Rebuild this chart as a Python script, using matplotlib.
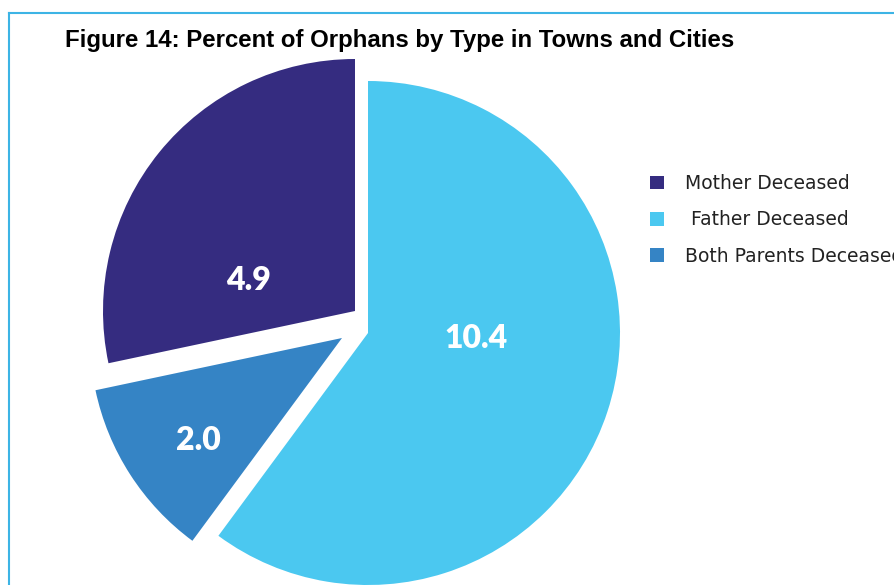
import matplotlib
matplotlib.use("Agg")
import matplotlib.pyplot as plt
from matplotlib.lines import Line2D

# data
CATEGORIES = ["Mother Deceased", " Father Deceased", "Both Parents Deceased"]
VALUES = [4.9, 10.4, 2.0]
COLORS = ["#352C80", "#4BC8F0", "#3584C5"]
TITLE = "Figure 14: Percent of Orphans by Type in Towns and Cities"

W, H = 894, 585
R_PX = 252.0          # pie radius in pixels
C0 = (362, 330)       # reference pie centre (pixels, y down)

# per-slice apex and label position in pixels (layout only)
APEX_PX = [(355, 311), (368, 333), (342, 338)]
LABEL_PX = [(249, 281), (476, 339), (198, 441)]


def to_data(px, py):
    return ((px - C0[0]) / R_PX, (C0[1] - py) / R_PX)


fig = plt.figure(figsize=(W / 100, H / 100), dpi=100)
ax = fig.add_axes([0, 0, 1, 1])

total = sum(VALUES)
start = 90 + VALUES[0] / total * 360
wedges, _ = ax.pie(VALUES, colors=COLORS, startangle=start, counterclock=False,
                   radius=1.0, wedgeprops=dict(linewidth=0))

# shift each slice to its own position
for w, (px, py) in zip(wedges, APEX_PX):
    w.set_center(to_data(px, py))

for v, (px, py) in zip(VALUES, LABEL_PX):
    x, y = to_data(px, py)
    ax.text(x, y, f"{v:.1f}", color="white", fontsize=23, fontweight="heavy",
            ha="center", va="center", family="Lato")

ax.set_xlim(-C0[0] / R_PX, (W - C0[0]) / R_PX)
ax.set_ylim((C0[1] - H) / R_PX, C0[1] / R_PX)
ax.set_aspect("equal")
ax.axis("off")

fig.text(65 / W, 1 - 41 / H, TITLE, fontsize=17.3, fontweight="bold",
         family="Liberation Sans", ha="left", va="center")

# legend runs off the right edge, as in the original
leg = fig.legend(wedges, CATEGORIES, loc="upper left",
                 bbox_to_anchor=(650 / W, 1 - 174 / H), frameon=False,
                 handlelength=0.75, handleheight=0.75,
                 handletextpad=1.1, labelspacing=0.93, borderpad=0,
                 borderaxespad=0, prop={"family": "DejaVu Sans", "size": 13.5})
for t in leg.get_texts():
    t.set_color("#222222")

# chart border (top and left)
fig.add_artist(Line2D([9 / W, 1], [1 - 13 / H, 1 - 13 / H], color="#3DB4E5",
                      linewidth=1.5, transform=fig.transFigure))
fig.add_artist(Line2D([9 / W, 9 / W], [0, 1 - 13 / H], color="#3DB4E5",
                      linewidth=1.5, transform=fig.transFigure))

fig.savefig("out.png", dpi=100)
